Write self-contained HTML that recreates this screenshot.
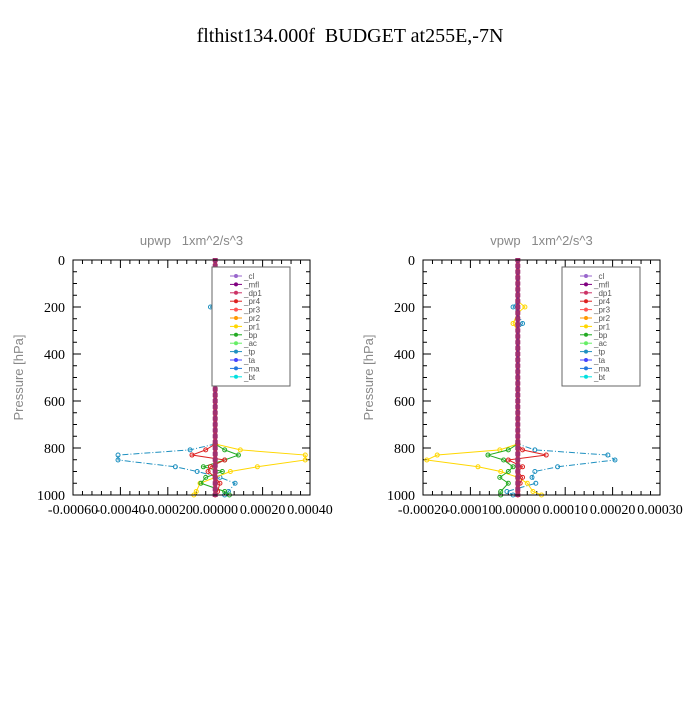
<!DOCTYPE html>
<html><head><meta charset="utf-8"><style>
body{margin:0;background:#fff}
svg text{font-family:"Liberation Sans",sans-serif;white-space:pre}
</style></head><body>
<svg id="c" width="700" height="700" xmlns="http://www.w3.org/2000/svg">
<rect width="700" height="700" fill="#fff"/>
<text x="350" y="42" text-anchor="middle" font-size="20" style="font-family:'Liberation Serif',serif;white-space:pre">flthist134.000f  BUDGET at255E,-7N</text>
</svg>
<script>
// pressure levels (hPa)
const levels=[0,100,175,200,225,270,300,400,500,600,700,783,808,830,851,880,900,925,950,985,1000];
// x tick labels
const ticksU=[-0.0006,-0.0004,-0.0002,0,0.0002,0.0004];
const ticksV=[-0.0002,-0.0001,0,0.0001,0.0002,0.0003];
const pTicks=[0,200,400,600,800,1000];
const names=["_cl","_mfl","_dp1","_pr4","_pr3","_pr2","_pr1","_bp","_ac","_tp","_ta","_ma","_bt"];
const colors=["#9966cc","#800080","#cc3366","#dd2222","#ff5555","#ff9900","#ffd700","#22aa22","#66ee66","#1e90c0","#4444ff","#2277dd","#00e0e0"];
// upwp series (units 1e-4)
const uTp=[0,0,0,-0.2,0,0,0,0,0,0,0,0,-1.06,-4.1,-4.1,-1.68,-0.76,0.2,0.84,0.56,0.4];
const uPr1=[0,0,0,0.2,0,0,0,0,0,0,0,0,1.06,3.8,3.8,1.78,0.64,0,-0.64,-0.8,-0.9];
const uBp=[0,0,0,0,0,0,0,0,0,0,0,0,0.4,0.98,0.4,-0.5,0.3,-0.4,-0.6,0.4,0.6];
const uPr4=[0,0,0,0,0,0,0,0,0,0,0,0,-0.4,-0.98,0.4,-0.2,-0.3,0,0.2,0.1,0];
// vpwp series (units 1e-4)
const vTp=[0,0,0,-0.1,0,0.1,0,0,0,0,0,0,0.36,1.9,2.05,0.84,0.36,0.3,0.38,-0.23,-0.1];
const vPr1=[0,0,0,0.15,0,-0.1,0,0,0,0,0,0,-0.38,-1.7,-1.92,-0.84,-0.36,0,0.2,0.32,0.5];
const vBp=[0,0,0,0,0,0,0,0,0,0,0,0,-0.2,-0.63,-0.3,-0.1,-0.2,-0.38,-0.2,-0.36,-0.36];
const vPr4=[0,0,0,0,0,0,0,0,0,0,0,0,0.1,0.6,-0.2,0.1,0,0.1,0.05,0,0];

const svg=document.getElementById('c');
const NS="http://www.w3.org/2000/svg";
function mk(t,a,parent){const e=document.createElementNS(NS,t);for(const k in a)e.setAttribute(k,a[k]);(parent||svg).appendChild(e);return e;}

function panel(px,xmin,xmax,ticks,title,series,key){
  const L=px,R=px+237,T=260,B=495;
  const g=mk('g',{});
  
  
  const xs=v=>L+(v-xmin)/(xmax-xmin)*(R-L);
  const ys=p=>T+p/1000*(B-T);
  const t=mk('text',{x:(L+R)/2,y:245,'text-anchor':'middle','font-size':13,fill:'#888'},g);
  t.textContent=title;
  
  
  const yl=mk('text',{x:0,y:0,transform:`translate(${L-50},${(T+B)/2}) rotate(-90)`,'text-anchor':'middle','font-size':13,fill:'#888'},g);
  yl.textContent="Pressure [hPa]";
  
  
  ticks.forEach((v,i)=>{
    const x=xs(v);
    mk('line',{x1:x,x2:x,y1:B,y2:B-8,stroke:'#000'},g);
    mk('line',{x1:x,x2:x,y1:T,y2:T+8,stroke:'#000'},g);
    if(i<ticks.length-1){const x2=xs(ticks[i+1]);for(let k=1;k<5;k++){const xm=x+(x2-x)*k/5;mk('line',{x1:xm,x2:xm,y1:B,y2:B-4,stroke:'#000'},g);mk('line',{x1:xm,x2:xm,y1:T,y2:T+4,stroke:'#000'},g);}}
    const lb=mk('text',{x:x,y:B+19,'text-anchor':'middle','font-size':14,style:"font-family:'Liberation Serif',serif"},g);
    lb.textContent=v.toFixed(5);
    
    
  });
  pTicks.forEach((p,i)=>{
    const y=ys(p);
    mk('line',{x1:L,x2:L+8,y1:y,y2:y,stroke:'#000'},g);
    mk('line',{x1:R,x2:R-8,y1:y,y2:y,stroke:'#000'},g);
    if(i<pTicks.length-1){const y2=ys(pTicks[i+1]);for(let k=1;k<4;k++){const ym=y+(y2-y)*k/4;mk('line',{x1:L,x2:L+4,y1:ym,y2:ym,stroke:'#000'},g);mk('line',{x1:R,x2:R-4,y1:ym,y2:ym,stroke:'#000'},g);}}
    const lb=mk('text',{x:L-8,y:y+5,'text-anchor':'end','font-size':14,style:"font-family:'Liberation Serif',serif"},g);
    lb.textContent=p;
    
    
  });
  series.forEach(s=>{
    const pts=s.vals.map((v,i)=>xs(v*1e-4)+','+ys(levels[i])).join(' ');
    const pl=mk('polyline',{points:pts,fill:'none',stroke:s.color,'stroke-width':1,'stroke-dasharray':s.dash||''},g);
    
    
    s.vals.forEach((v,i)=>{if(levels[i]>=775||v!==0){const m=mk('circle',{cx:xs(v*1e-4),cy:ys(levels[i]),r:2,fill:'none',stroke:s.color},g);}});
  });
  const z=xs(0);
  const zl=mk('line',{x1:z,x2:z,y1:T,y2:B,stroke:'#b03060','stroke-width':4},g);
  
  
  mk('line',{x1:z,x2:z,y1:T,y2:B,stroke:'#7a2a8a','stroke-width':1.5,'stroke-dasharray':'3,3'},g);
  for(let p=0;p<=1000;p+=25){mk('rect',{x:z-2.5,y:ys(p)-2,width:5,height:4,fill:'#a03070'},g);}
  mk('rect',{x:L,y:T,width:R-L,height:B-T,fill:'none',stroke:'#000'},g);
  const lx=key==='upwp'?212:562;
  const lg=mk('g',{},g);
  
  
  mk('rect',{x:lx,y:267,width:78,height:119,fill:'#fff',stroke:'#666'},lg);
  names.forEach((n,i)=>{
    const y=276+i*8.4;
    mk('line',{x1:lx+18,x2:lx+30,y1:y,y2:y,stroke:colors[i]},lg);
    mk('circle',{cx:lx+24,cy:y,r:2,fill:colors[i]},lg);
    const tx=mk('text',{x:lx+32,y:y+3,'font-size':8,fill:'#555'},lg);
    tx.textContent=n;
    
    
  });
}
panel(73,-0.0006,0.0004,ticksU,"upwp   1xm^2/s^3",[
  {name:'_tp',vals:uTp,color:'#1e90c0',dash:'6,2,1,2'},
  {name:'_pr1',vals:uPr1,color:'#ffd700'},
  {name:'_bp',vals:uBp,color:'#22aa22'},
  {name:'_pr4',vals:uPr4,color:'#dd2222'}],'upwp');
panel(423,-0.0002,0.0003,ticksV,"vpwp   1xm^2/s^3",[
  {name:'_tp',vals:vTp,color:'#1e90c0',dash:'6,2,1,2'},
  {name:'_pr1',vals:vPr1,color:'#ffd700'},
  {name:'_bp',vals:vBp,color:'#22aa22'},
  {name:'_pr4',vals:vPr4,color:'#dd2222'}],'vpwp');
</script>
</body></html>
